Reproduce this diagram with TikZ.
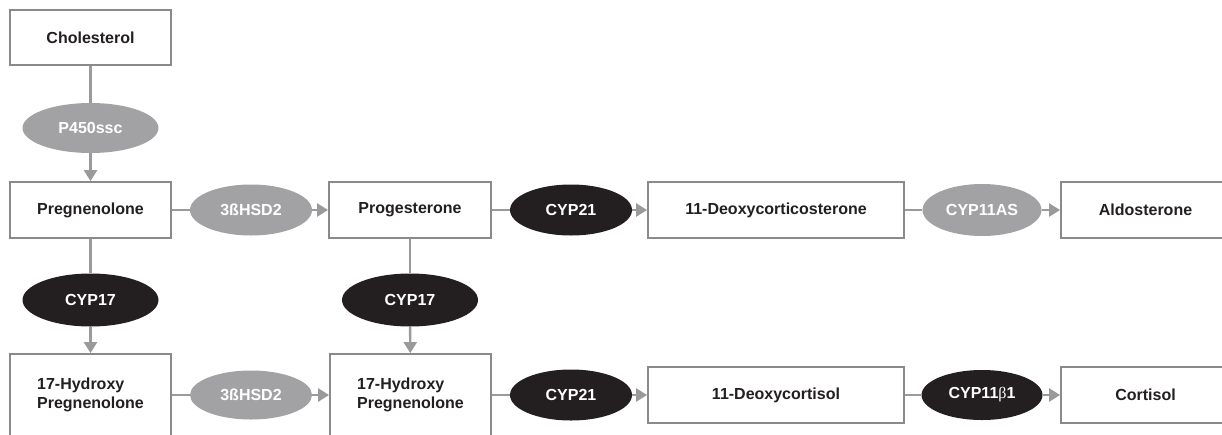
\documentclass[tikz,border=0pt]{standalone}
\usepackage{fontspec}
\setmainfont{Liberation Sans}
\newfontfamily\greekfont{Liberation Serif}
\usetikzlibrary{shapes.geometric,arrows.meta}
\definecolor{boxline}{HTML}{8A8A8A}
\definecolor{linegray}{HTML}{9A9A9C}
\definecolor{enzgray}{HTML}{A2A2A4}
\definecolor{enzblack}{HTML}{231F20}
\definecolor{textblack}{HTML}{231F20}
\begin{document}
\begin{tikzpicture}[x=1pt,y=-1pt,
  box/.style={draw=boxline, line width=1.8pt, fill=white, minimum height=56pt, inner sep=0pt,
    font=\bfseries\fontsize{16}{19}\selectfont, text=textblack, align=left},
  enz/.style={ellipse, inner sep=0pt, font=\bfseries\fontsize{16}{19}\selectfont, text=white,
    minimum width=122pt, minimum height=51pt},
  genz/.style={enz, fill=enzgray},
  benz/.style={enz, fill=enzblack},
  conn/.style={draw=linegray, line width=2.4pt},
  arr/.style={conn, -{Triangle[length=11pt,width=13pt]}}
]
\useasboundingbox (0,0) rectangle (1222,434);

% boxes
\node[box, minimum width=161pt, minimum height=55pt] (chol) at (90.5,37.5) {Cholesterol};
\node[box, minimum width=161pt] (preg) at (90.5,210) {Pregnenolone};
\node[box, minimum width=161pt, minimum height=82pt] (ohpregA) at (90.5,395) {17-Hydroxy\\Pregnenolone};
\node[box, minimum width=162pt] (prog) at (410,210) {Progesterone};
\node[box, minimum width=161pt, minimum height=82pt] (ohpregB) at (410.5,395) {17-Hydroxy\\Pregnenolone};
\node[box, minimum width=256pt] (doc) at (776,210) {11-Deoxycorticosterone};
\node[box, minimum width=169pt] (aldo) at (1145.5,210) {Aldosterone};
\node[box, minimum width=256pt] (dcort) at (776,395) {11-Deoxycortisol};
\node[box, minimum width=169pt] (cort) at (1145.5,395) {Cortisol};

% enzymes
\node[genz, minimum width=136pt, minimum height=50pt] (p450) at (90.5,128) {P450ssc};
\node[genz] (hsdA) at (251,210) {3ßHSD2};
\node[benz] (cyp21A) at (571,210) {CYP21};
\node[genz, minimum width=119pt, minimum height=52pt] (cyp11as) at (982,210) {CYP11AS};
\node[benz, minimum width=136pt, minimum height=53pt] (cyp17A) at (90.5,300) {CYP17};
\node[benz, minimum width=136pt, minimum height=53pt] (cyp17B) at (410,300) {CYP17};
\node[genz, minimum height=49pt] (hsdB) at (251,395) {3ßHSD2};
\node[benz] (cyp21B) at (571,395) {CYP21};
\node[benz, minimum width=121pt, minimum height=50pt] (cyp11b) at (982,395) {CYP11{\greekfont\mdseries β}1};

% connectors
\draw[conn] (chol) -- (p450);
\draw[arr] (p450) -- (preg);
\draw[conn] (preg) -- (hsdA);
\draw[arr] (hsdA) -- (prog);
\draw[conn] (prog) -- (cyp21A);
\draw[arr] (cyp21A) -- (doc);
\draw[conn] (doc) -- (cyp11as);
\draw[arr] (cyp11as) -- (aldo);
\draw[conn] (preg) -- (cyp17A);
\draw[arr] (cyp17A) -- (ohpregA);
\draw[conn] (prog) -- (cyp17B);
\draw[arr] (cyp17B) -- (ohpregB);
\draw[conn] (ohpregA) -- (hsdB);
\draw[arr] (hsdB) -- (ohpregB);
\draw[conn] (ohpregB) -- (cyp21B);
\draw[arr] (cyp21B) -- (dcort);
\draw[conn] (dcort) -- (cyp11b);
\draw[arr] (cyp11b) -- (cort);
\end{tikzpicture}
\end{document}
